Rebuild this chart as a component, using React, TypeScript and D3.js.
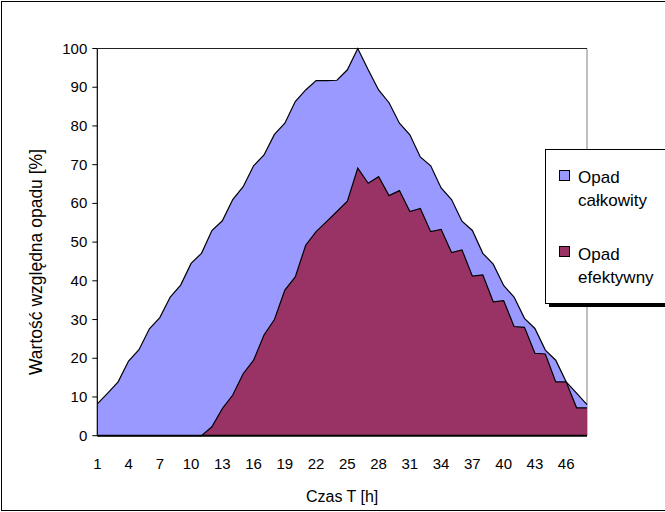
import React from "react";
import * as d3 from "d3";

const hours: number[] = Array.from({ length: 48 }, (_, i) => i + 1);
const totalRain: number[] = [
  8.2, 11, 13.9, 19.3, 22.2, 27.6, 30.5, 35.8, 38.9, 44.5, 47.1, 53, 55.5, 61, 64.3, 69.7,
  72.5, 77.8, 80.7, 86.3, 89.3, 91.7, 91.7, 91.8, 94.5, 100, 94.5, 89.3, 86, 80.7, 77.7, 72,
  69.7, 64, 61, 55.4, 53, 47.1, 44.3, 38.8, 35.8, 30.3, 27.7, 22.1, 19.5, 13.9, 11, 8,
];
const effectiveRain: number[] = [
  0, 0, 0, 0, 0, 0, 0, 0, 0, 0, 0, 2.3, 7, 10.5, 16, 19.5,
  26, 30, 37.6, 41, 49.2, 52.7, 55.3, 57.9, 60.6, 69.1, 65.2, 66.9, 62, 63.3, 57.9, 58.7,
  52.7, 53.3, 47.3, 48, 41.2, 41.5, 34.6, 34.9, 28.2, 28, 21.3, 21.1, 13.9, 13.9, 7.2, 7.2,
];
const yTicks: number[] = [0, 10, 20, 30, 40, 50, 60, 70, 80, 90, 100];
const xTickLabels: number[] = hours.filter((h) => (h - 1) % 3 === 0);
const seriesNames: string[][] = [["Opad", "całkowity"], ["Opad", "efektywny"]];
const seriesColors: string[] = ["#9999FF", "#993366"];

const W = 665;
const H = 512;
const left = 97.3;
const right = 587;
const top = 48.5;
const bottom = 435.7;
const font = "'Liberation Sans', Arial, sans-serif";

export default function App() {
  const x = d3.scalePoint<number>().domain(hours).range([left, right]);
  const y = d3.scaleLinear().domain([0, 100]).range([bottom, top]);

  const area = d3
    .area<number>()
    .x((_, i) => x(hours[i]) as number)
    .y0(y(0))
    .y1((d) => y(d));
  const line = d3
    .line<number>()
    .x((_, i) => x(hours[i]) as number)
    .y((d) => y(d));

  const series = [totalRain, effectiveRain];

  return (
    <svg
      width={W}
      height={H}
      style={{ position: "absolute", left: 0, top: 0, background: "#fff" }}
      fontFamily={font}
    >
      <rect x={0} y={0} width={W} height={H} fill="#fff" />
      <rect x={1.5} y={1.5} width={W + 10} height={H - 3} fill="none" stroke="#000" strokeWidth={1} />

      {/* plot area border */}
      <line x1={right} x2={right} y1={top} y2={bottom} stroke="#808080" strokeWidth={1} />
      <line x1={left} x2={right} y1={top} y2={top} stroke="#222" strokeWidth={1} />

      {series.map((s, i) => (
        <g key={i}>
          <path d={area(s) || ""} fill={seriesColors[i]} stroke="none" />
          <path d={line(s) || ""} fill="none" stroke="#000" strokeWidth={1.2} />
        </g>
      ))}

      {/* y axis */}
      <line x1={left} x2={left} y1={top} y2={bottom} stroke="#000" strokeWidth={1.2} />
      {yTicks.map((t) => (
        <g key={t}>
          <line x1={left - 5} x2={left} y1={y(t)} y2={y(t)} stroke="#000" strokeWidth={1} />
          <text x={left - 10} y={y(t) + 5} textAnchor="end" fontSize={15} fill="#000">
            {t}
          </text>
        </g>
      ))}
      {/* x axis */}
      <line x1={left} x2={right} y1={bottom} y2={bottom} stroke="#000" strokeWidth={2} />
      {xTickLabels.map((h) => (
        <text key={h} x={x(h) as number} y={469} textAnchor="middle" fontSize={15} fill="#000">
          {h}
        </text>
      ))}
      <text x={(left + right) / 2} y={502} textAnchor="middle" fontSize={16} fill="#000">
        Czas T [h]
      </text>
      <text
        transform={`translate(42, 262) rotate(-90)`}
        textAnchor="middle"
        fontSize={17.5}
        fill="#000"
      >
        Wartość względna opadu [%]
      </text>

      {/* legend */}
      <rect x={549} y={153} width={140} height={154} fill="#000" />
      <rect x={545.5} y={149.5} width={140} height={154} fill="#fff" stroke="#000" strokeWidth={1} />
      {seriesNames.map((nm, i) => (
        <g key={i}>
          <rect x={559.5} y={170.5 + i * 76} width={10} height={10} fill={seriesColors[i]} stroke="#000" strokeWidth={1} />
          <text x={578} y={183 + i * 77} fontSize={17} fill="#000">
            {nm[0]}
          </text>
          <text x={578} y={206 + i * 77} fontSize={17} fill="#000">
            {nm[1]}
          </text>
        </g>
      ))}
    </svg>
  );
}
